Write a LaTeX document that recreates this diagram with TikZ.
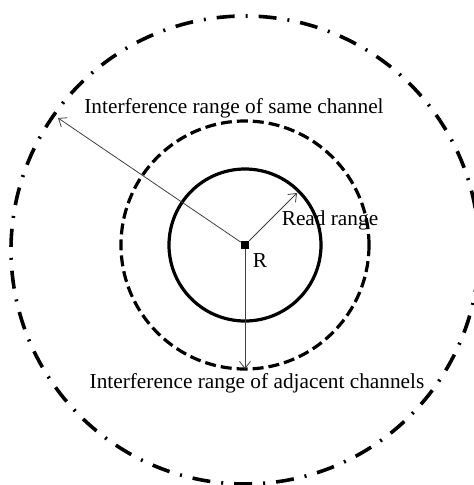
\documentclass[tikz,border=0pt]{standalone}
\usepackage{fontspec}
\setmainfont{Liberation Serif}
\usetikzlibrary{arrows.meta}

\begin{document}
\begin{tikzpicture}[x=1pt,y=-1pt,
    ring/.style={line width=3.2pt},
    ray/.style={draw=black!75,line width=0.8pt,-{Straight Barb[length=7pt,width=11pt]}},
    lbl/.style={font=\fontsize{21.3}{24}\selectfont,inner sep=0pt}]
        \useasboundingbox (0,0) rectangle (474,485);
        % Reader
        \node[fill=black,minimum size=8pt,inner sep=0pt] (rd) at (245,245) {};
        \node[lbl] (r) at (260,261) {R};
        % Read range
        \draw[ring] (rd.center) circle[radius=76pt];
        \coordinate (rr) at (297,193);
        \draw[ray] (rd) -- (rr);
        \node[lbl] (readlbl) at (330,220) {Read range};
        % Adjacent channels
        \draw[ring, dash pattern=on 11pt off 5pt] (rd.center) circle[radius=124pt];
        \coordinate (ac) at (245,369);
        \draw[ray] (rd) -- (ac);
        \node[lbl] (adjlbl) at (257,383) {Interference range of adjacent channels};
        % Same channel
        \draw[ring, line width=3.6pt, dash pattern=on 18pt off 11pt on 2pt off 11pt] (245,250) circle[radius=234pt];
        \coordinate (sc) at (58,118);
        \draw[ray] (rd) -- (sc);
        \node[lbl] (samelbl) at (234,108) {Interference range of same channel};
\end{tikzpicture}
\end{document}
